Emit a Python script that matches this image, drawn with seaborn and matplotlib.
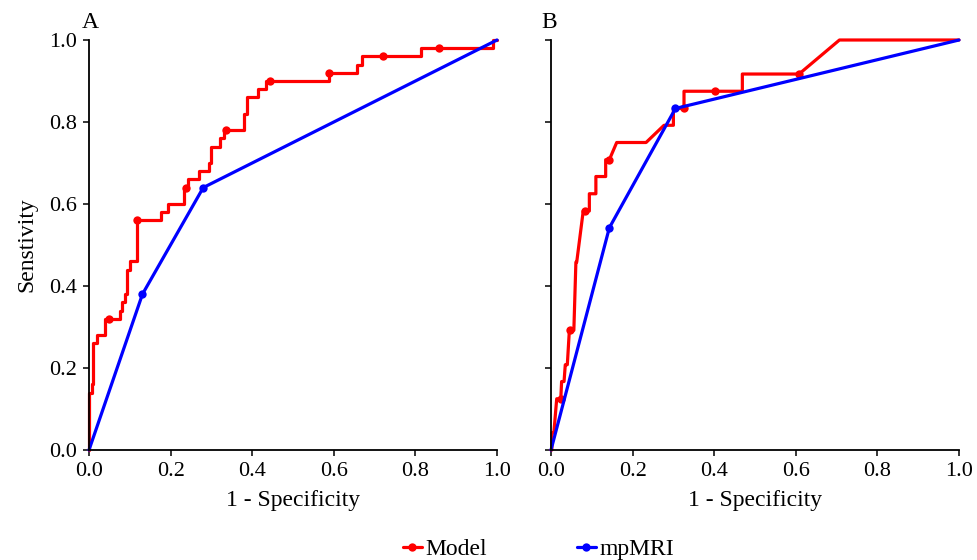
import numpy as np
import pandas as pd
import seaborn as sns
import matplotlib.pyplot as plt

# ---- data ----
# panel A, model ROC (vertices of the step curve)
a_model_fpr = [0, 0, 0.007, 0.007, 0.011, 0.011, 0.019, 0.019, 0.039, 0.039, 0.049,
               0.076, 0.076, 0.082, 0.082, 0.088, 0.088, 0.094, 0.094, 0.10, 0.10,
               0.118, 0.118, 0.176, 0.176, 0.194, 0.194, 0.234, 0.234, 0.238, 0.243,
               0.243, 0.27, 0.27, 0.295, 0.295, 0.30, 0.30, 0.32, 0.32, 0.33, 0.33,
               0.337, 0.38, 0.38, 0.388, 0.388, 0.413, 0.413, 0.434, 0.434, 0.444,
               0.588, 0.588, 0.656, 0.656, 0.668, 0.668, 0.721, 0.814, 0.814, 0.859,
               0.99, 0.99, 1.0]
a_model_tpr = [0, 0.14, 0.14, 0.16, 0.16, 0.26, 0.26, 0.28, 0.28, 0.32, 0.32,
               0.32, 0.34, 0.34, 0.36, 0.36, 0.38, 0.38, 0.44, 0.44, 0.46,
               0.46, 0.56, 0.56, 0.58, 0.58, 0.60, 0.60, 0.64, 0.64, 0.64,
               0.66, 0.66, 0.68, 0.68, 0.70, 0.70, 0.74, 0.74, 0.76, 0.76, 0.78,
               0.78, 0.78, 0.82, 0.82, 0.86, 0.86, 0.88, 0.88, 0.90, 0.90,
               0.90, 0.92, 0.92, 0.94, 0.94, 0.96, 0.96, 0.96, 0.98, 0.98,
               0.98, 1.0, 1.0]
a_model_dots = [10, 22, 29, 42, 51, 53, 58, 61]

a_mri_fpr = [0, 0.131, 0.28, 1.0]
a_mri_tpr = [0, 0.38, 0.64, 1.0]
a_mri_dots = [1, 2]

# panel B, model ROC
b_model_fpr = [0, 0.002, 0.002, 0.007, 0.014, 0.024, 0.026, 0.032, 0.035, 0.04,
               0.045, 0.047, 0.056, 0.061, 0.063, 0.079, 0.083, 0.094, 0.094,
               0.11, 0.11, 0.134, 0.134, 0.143, 0.161, 0.233, 0.277, 0.30, 0.30,
               0.326, 0.326, 0.402, 0.469, 0.469, 0.608, 0.707, 1.0]
b_model_tpr = [0, 0, 0.042, 0.042, 0.125, 0.125, 0.167, 0.167, 0.208, 0.208,
               0.292, 0.292, 0.292, 0.458, 0.458, 0.583, 0.583, 0.583, 0.625,
               0.625, 0.667, 0.667, 0.708, 0.708, 0.75, 0.75, 0.792, 0.792, 0.833,
               0.833, 0.875, 0.875, 0.875, 0.917, 0.917, 1.0, 1.0]
b_model_dots = [5, 11, 16, 23, 29, 31, 34]

b_mri_fpr = [0, 0.143, 0.305, 1.0]
b_mri_tpr = [0, 0.542, 0.833, 1.0]
b_mri_dots = [1, 2]

series_names = ["Model", "mpMRI"]
series_colors = ["#FF0000", "#0000FF"]
panel_labels = ["A", "B"]
ticks = [0.0, 0.2, 0.4, 0.6, 0.8, 1.0]

sns.set_theme(style="ticks")
plt.rcParams['font.family'] = ['Liberation Serif', 'DejaVu Serif']
plt.rcParams['text.color'] = 'black'
plt.rcParams['axes.labelcolor'] = 'black'
plt.rcParams['xtick.color'] = 'black'
plt.rcParams['ytick.color'] = 'black'

fig = plt.figure(figsize=(9.77, 5.6), dpi=100)
ax_a = fig.add_axes([89 / 977, 110 / 560, 408 / 977, 410 / 560])
ax_b = fig.add_axes([551 / 977, 110 / 560, 408 / 977, 410 / 560])

panels = [
    (ax_a, (a_model_fpr, a_model_tpr, a_model_dots), (a_mri_fpr, a_mri_tpr, a_mri_dots)),
    (ax_b, (b_model_fpr, b_model_tpr, b_model_dots), (b_mri_fpr, b_mri_tpr, b_mri_dots)),
]

for ax, model, mri in panels:
    for (fpr, tpr, dots), name, col in zip([model, mri], series_names, series_colors):
        df = pd.DataFrame({"fpr": fpr, "tpr": tpr})
        sns.lineplot(data=df, x="fpr", y="tpr", sort=False, estimator=None, ax=ax,
                     color=col, linewidth=2.3, marker="o", markersize=6,
                     markeredgewidth=0, markevery=dots, label=name, clip_on=False)
    ax.set_xlim(0, 1)
    ax.set_ylim(0, 1)
    ax.set_xticks(ticks)
    ax.set_yticks(ticks)
    ax.set_xticklabels([f"{t:.1f}" for t in ticks])
    ax.set_xlabel("1 - Specificity", fontsize=17, labelpad=6)
    ax.tick_params(direction="out", length=4, width=1.1, labelsize=16, pad=5,
                   color="black", labelcolor="black")
    for s in ["left", "bottom"]:
        ax.spines[s].set_linewidth(1.3)
        ax.spines[s].set_color("black")
    sns.despine(ax=ax)
    ax.get_legend().remove()

ax_a.set_yticklabels([f"{t:.1f}" for t in ticks])
ax_a.set_ylabel("Senstivity", fontsize=17, labelpad=8)
ax_b.set_yticklabels([])
ax_b.set_ylabel("")

fig.text(82 / 977, 1 - 28 / 560, panel_labels[0], fontsize=17)
fig.text(541 / 977, 1 - 28 / 560, panel_labels[1], fontsize=17)

handles, labels = ax_a.get_legend_handles_labels()
fig.legend(handles, labels, loc="center", bbox_to_anchor=(0.551, 1 - 549 / 560), ncol=2,
           frameon=False, fontsize=17, handlelength=0.8, handletextpad=0.15,
           columnspacing=3.8)

plt.savefig("out.png", dpi=100)
